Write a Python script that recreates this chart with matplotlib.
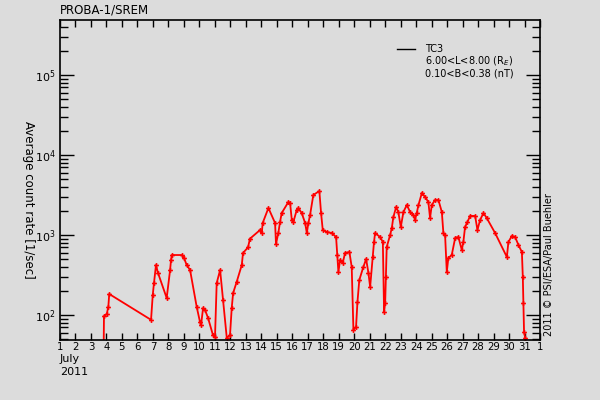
import matplotlib
matplotlib.use('Agg')
import matplotlib.pyplot as plt
from matplotlib.ticker import LogLocator, FixedLocator, NullFormatter

# day of July 2011 (fractional) and average count rate [1/sec]
days = [3.82, 3.84, 4.02, 4.12, 4.18, 6.88, 6.99, 7.07, 7.20, 7.33,
        7.89, 8.11, 8.17, 8.22, 8.86, 9.01, 9.18, 9.40, 9.83, 10.04,
        10.11, 10.24, 10.37, 10.56, 10.88, 11.01, 11.12, 11.34, 11.53, 11.77,
        11.98, 12.09, 12.18, 12.41, 12.74, 12.82, 13.14, 13.27, 13.92, 14.03,
        14.09, 14.46, 14.89, 14.95, 15.10, 15.21, 15.32, 15.75, 15.86, 15.97,
        16.07, 16.29, 16.39, 16.61, 16.83, 16.94, 17.04, 17.15, 17.36, 17.75,
        17.86, 17.97, 18.23, 18.55, 18.83, 18.91, 18.98, 19.09, 19.26, 19.41,
        19.69, 19.84, 19.95, 20.12, 20.21, 20.33, 20.59, 20.77, 20.92, 21.03,
        21.20, 21.28, 21.35, 21.67, 21.85, 21.93, 22.00, 22.05, 22.10, 22.32,
        22.43, 22.53, 22.71, 22.85, 23.01, 23.18, 23.40, 23.61, 23.82, 23.93,
        24.04, 24.15, 24.37, 24.58, 24.79, 24.90, 25.01, 25.22, 25.44, 25.66,
        25.76, 25.87, 25.98, 26.08, 26.30, 26.52, 26.73, 26.95, 27.05, 27.16,
        27.31, 27.49, 27.81, 27.96, 28.13, 28.35, 28.56, 29.10, 29.86, 29.96,
        30.18, 30.39, 30.61, 30.83, 30.89, 30.93, 30.97, 31.04, 31.10]
rates = [40, 97, 103, 126, 183, 87, 178, 251, 422, 335,
         163, 365, 487, 562, 562, 516, 422, 365, 126, 82,
         75, 122, 115, 92, 56, 53, 251, 365, 154, 52,
         56, 122, 188, 259, 422, 596, 700, 900, 1155, 1059,
         1413, 2175, 1413, 772, 1059, 1455, 1884, 2586, 2512, 1540,
         1455, 2054, 2175, 1884, 1413, 1059, 1413, 1778, 3162, 3548,
         1884, 1155, 1091, 1059, 944, 562, 345, 487, 447, 596,
         613, 398, 65, 71, 145, 274, 398, 501, 335, 224,
         531, 818, 1059, 944, 818, 109, 141, 300, 708, 1000,
         1223, 1679, 2239, 1940, 1259, 1940, 2371, 1940, 1778, 1540,
         1884, 2371, 3350, 2985, 2586, 1630, 2371, 2738, 2738, 1940,
         1059, 1000, 345, 516, 562, 918, 944, 649, 818, 1259,
         1455, 1730, 1730, 1155, 1540, 1884, 1630, 1059, 531, 818,
         972, 944, 750, 613, 299, 141, 61, 52, 40]

tick_days = list(range(1, 33))
tick_labels = [str(d) for d in range(1, 32)] + ['1']

bg = '#dcdcdc'
fig = plt.figure(figsize=(6, 4), dpi=100, facecolor=bg)
ax = fig.add_axes([0.1, 0.15, 0.8, 0.8], facecolor=bg)

ax.plot(days, rates, color='red', lw=1.3, marker='P', markersize=3.5,
        markeredgewidth=0)

ax.set_yscale('log')
ax.set_xlim(1, 32)
ax.set_ylim(48.7, 4.87e5)

ax.xaxis.set_major_locator(FixedLocator(tick_days))
ax.set_xticklabels(tick_labels)
ax.yaxis.set_major_locator(LogLocator(base=10, numticks=10))
ax.yaxis.set_minor_locator(LogLocator(base=10, subs=range(2, 10), numticks=20))
ax.yaxis.set_minor_formatter(NullFormatter())

ax.tick_params(which='both', direction='in', top=True, right=True,
               colors='black')
ax.tick_params(axis='y', which='major', length=10, width=1, labelsize=8, pad=3)
ax.tick_params(axis='y', which='minor', length=6, width=1)
ax.tick_params(axis='x', which='major', length=5, width=1, pad=1.5,
               labelsize=7.3)
for s in ax.spines.values():
    s.set_linewidth(1.2)

fig.text(28 / 600, 1 - 200 / 400, 'Average count rate [1/sec]', rotation=270,
         fontsize=8.5, ha='center', va='center')

fig.text(0.1, 0.975, 'PROBA-1/SREM', fontsize=8.5, va='center', ha='left')
fig.text(0.1, 0.1025, 'July', fontsize=8, va='center', ha='left')
fig.text(0.1, 0.07, '2011', fontsize=8, va='center', ha='left')
fig.text(0.915, 0.16, '2011 \u00a9 PSI/ESA/Paul Buehler', rotation=90,
         fontsize=7, va='bottom', ha='center')

# legend
fig.lines.append(plt.Line2D([397 / 600, 415 / 600], [1 - 49 / 400] * 2,
                            color='black', lw=1, transform=fig.transFigure))
fig.text(425 / 600, 1 - 44 / 400,
         'TC3\n6.00<L<8.00 (R$_E$)\n0.10<B<0.38 (nT)',
         fontsize=7, va='top', ha='left', linespacing=1.05)

fig.savefig('out.png', dpi=100, facecolor=bg)
